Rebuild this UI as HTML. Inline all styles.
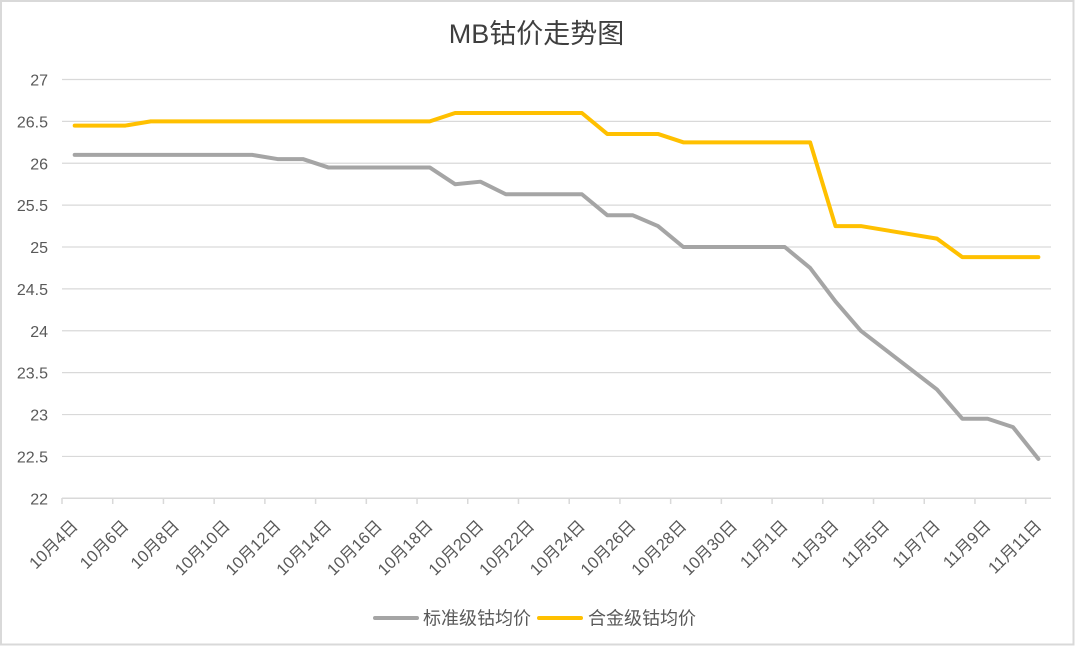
<!DOCTYPE html>
<html>
<head>
<meta charset="utf-8">
<style>
  html, body { margin: 0; padding: 0; background: #ffffff; }
  svg { display: block; }
  text { font-family: "Liberation Sans", "Noto Sans CJK SC", sans-serif; }
</style>
</head>
<body>
<svg width="1075" height="646" viewBox="0 0 1075 646" xmlns="http://www.w3.org/2000/svg">
  <rect x="0" y="0" width="1075" height="646" fill="#ffffff"/>
  <rect x="1" y="1" width="1072.5" height="643.5" fill="none" stroke="#d9d9d9" stroke-width="2"/>

  <!-- Title -->
  <text x="536.5" y="43" text-anchor="middle" font-size="27" fill="#3f3f3f">MB钴价走势图</text>

  <!-- Gridlines -->
  <g stroke="#d9d9d9" stroke-width="1.2">
    <line x1="62" y1="79.5" x2="1051" y2="79.5"/>
    <line x1="62" y1="121.38" x2="1051" y2="121.38"/>
    <line x1="62" y1="163.26" x2="1051" y2="163.26"/>
    <line x1="62" y1="205.14" x2="1051" y2="205.14"/>
    <line x1="62" y1="247.02" x2="1051" y2="247.02"/>
    <line x1="62" y1="288.9" x2="1051" y2="288.9"/>
    <line x1="62" y1="330.78" x2="1051" y2="330.78"/>
    <line x1="62" y1="372.66" x2="1051" y2="372.66"/>
    <line x1="62" y1="414.54" x2="1051" y2="414.54"/>
    <line x1="62" y1="456.42" x2="1051" y2="456.42"/>
  </g>
  <!-- X axis -->
  <g stroke="#d9d9d9" stroke-width="1.5">
    <line x1="62" y1="498.3" x2="1051" y2="498.3"/>
    <line x1="62" y1="498" x2="62" y2="504"/>
    <line x1="112.72" y1="498" x2="112.72" y2="504"/>
    <line x1="163.44" y1="498" x2="163.44" y2="504"/>
    <line x1="214.16" y1="498" x2="214.16" y2="504"/>
    <line x1="264.88" y1="498" x2="264.88" y2="504"/>
    <line x1="315.6" y1="498" x2="315.6" y2="504"/>
    <line x1="366.32" y1="498" x2="366.32" y2="504"/>
    <line x1="417.04" y1="498" x2="417.04" y2="504"/>
    <line x1="467.76" y1="498" x2="467.76" y2="504"/>
    <line x1="518.48" y1="498" x2="518.48" y2="504"/>
    <line x1="569.2" y1="498" x2="569.2" y2="504"/>
    <line x1="619.92" y1="498" x2="619.92" y2="504"/>
    <line x1="670.64" y1="498" x2="670.64" y2="504"/>
    <line x1="721.36" y1="498" x2="721.36" y2="504"/>
    <line x1="772.08" y1="498" x2="772.08" y2="504"/>
    <line x1="822.8" y1="498" x2="822.8" y2="504"/>
    <line x1="873.52" y1="498" x2="873.52" y2="504"/>
    <line x1="924.24" y1="498" x2="924.24" y2="504"/>
    <line x1="974.96" y1="498" x2="974.96" y2="504"/>
    <line x1="1025.68" y1="498" x2="1025.68" y2="504"/>
  </g>

  <!-- Y labels -->
  <g font-size="16" fill="#595959" text-anchor="end">
    <text x="48" y="85.5">27</text>
    <text x="48" y="127.4">26.5</text>
    <text x="48" y="169.3">26</text>
    <text x="48" y="211.1">25.5</text>
    <text x="48" y="253">25</text>
    <text x="48" y="294.9">24.5</text>
    <text x="48" y="336.8">24</text>
    <text x="48" y="378.7">23.5</text>
    <text x="48" y="420.5">23</text>
    <text x="48" y="462.4">22.5</text>
    <text x="48" y="504.3">22</text>
  </g>

  <!-- X labels -->
  <g font-size="16.5" fill="#595959" text-anchor="end">
    <text transform="translate(74.68,523) rotate(-45)" dy="0.35em">10月4日</text>
    <text transform="translate(125.40,523) rotate(-45)" dy="0.35em">10月6日</text>
    <text transform="translate(176.12,523) rotate(-45)" dy="0.35em">10月8日</text>
    <text transform="translate(226.84,523) rotate(-45)" dy="0.35em">10月10日</text>
    <text transform="translate(277.56,523) rotate(-45)" dy="0.35em">10月12日</text>
    <text transform="translate(328.28,523) rotate(-45)" dy="0.35em">10月14日</text>
    <text transform="translate(379.00,523) rotate(-45)" dy="0.35em">10月16日</text>
    <text transform="translate(429.72,523) rotate(-45)" dy="0.35em">10月18日</text>
    <text transform="translate(480.44,523) rotate(-45)" dy="0.35em">10月20日</text>
    <text transform="translate(531.16,523) rotate(-45)" dy="0.35em">10月22日</text>
    <text transform="translate(581.88,523) rotate(-45)" dy="0.35em">10月24日</text>
    <text transform="translate(632.60,523) rotate(-45)" dy="0.35em">10月26日</text>
    <text transform="translate(683.32,523) rotate(-45)" dy="0.35em">10月28日</text>
    <text transform="translate(734.04,523) rotate(-45)" dy="0.35em">10月30日</text>
    <text transform="translate(784.76,523) rotate(-45)" dy="0.35em">11月1日</text>
    <text transform="translate(835.48,523) rotate(-45)" dy="0.35em">11月3日</text>
    <text transform="translate(886.20,523) rotate(-45)" dy="0.35em">11月5日</text>
    <text transform="translate(936.92,523) rotate(-45)" dy="0.35em">11月7日</text>
    <text transform="translate(987.64,523) rotate(-45)" dy="0.35em">11月9日</text>
    <text transform="translate(1038.36,523) rotate(-45)" dy="0.35em">11月11日</text>
  </g>

  <!-- Series: 标准级钴均价 (gray) -->
  <polyline fill="none" stroke="#a5a5a5" stroke-width="4" stroke-linejoin="round" stroke-linecap="round"
    points="74.68,154.88 252.20,154.88 277.56,159.07 302.92,159.07 328.28,167.45 429.72,167.45 455.08,184.2 480.44,181.69 505.80,194.25 581.88,194.25 607.24,215.19 632.60,215.19 657.96,226.08 683.32,247.02 784.76,247.02 810.12,267.96 835.48,301.46 860.84,330.78 936.92,389.41 962.28,418.73 987.64,418.73 1013.00,427.10 1038.36,458.93"/>

  <!-- Series: 合金级钴均价 (yellow) -->
  <polyline fill="none" stroke="#ffc000" stroke-width="4" stroke-linejoin="round" stroke-linecap="round"
    points="74.68,125.57 125.40,125.57 150.76,121.38 429.72,121.38 455.08,113.0 581.88,113.0 607.24,133.94 657.96,133.94 683.32,142.32 810.12,142.32 835.48,226.08 860.84,226.08 936.92,238.64 962.28,257.07 1038.36,257.07"/>

  <!-- Legend -->
  <line x1="375" y1="618" x2="417" y2="618" stroke="#a5a5a5" stroke-width="4" stroke-linecap="round"/>
  <text x="423" y="624.5" font-size="18" fill="#595959">标准级钴均价</text>
  <line x1="539" y1="618" x2="581" y2="618" stroke="#ffc000" stroke-width="4" stroke-linecap="round"/>
  <text x="588" y="624.5" font-size="18" fill="#595959">合金级钴均价</text>
</svg>
</body>
</html>
